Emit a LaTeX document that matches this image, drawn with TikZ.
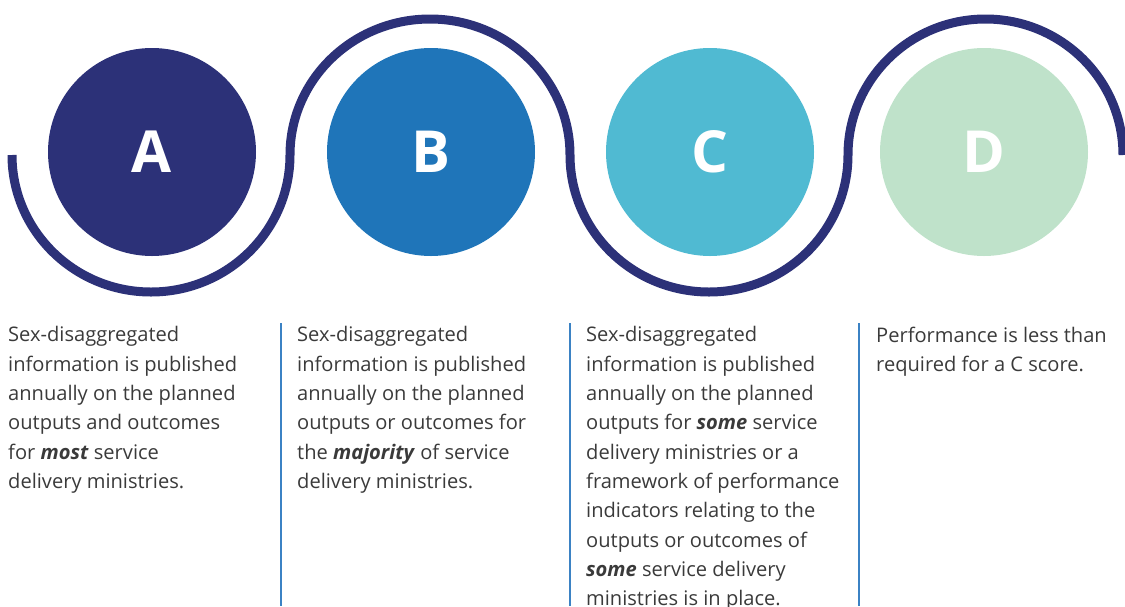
\documentclass[tikz,border=0pt]{standalone}
\usepackage{fontspec}
\setmainfont{Open Sans}
\newfontfamily\letterfont{Open Sans}
\definecolor{navy}{HTML}{2C3178}
\definecolor{cB}{HTML}{1F75B9}
\definecolor{cC}{HTML}{50BAD2}
\definecolor{cD}{HTML}{BFE2CA}
\definecolor{txt}{HTML}{3A3A3A}
\definecolor{sep}{HTML}{3B82C4}
\newcommand{\bi}[1]{\textbf{\textit{#1}}}
\tikzset{
  disc/.style={circle, minimum size=208pt, inner sep=0pt, text=white, font=\letterfont\bfseries\fontsize{58}{58}\selectfont},
  wave/.style={draw=navy, line width=9pt},
  desc/.style={anchor=north west, inner sep=0pt, align=left, text=txt, font=\fontsize{20.1}{29.3}\selectfont},
  sepline/.style={draw=sep, line width=1.2pt}
}
\begin{document}
\begin{tikzpicture}[x=1pt,y=-1pt]
\useasboundingbox (0,0) rectangle (1125,606);
\clip (0,0) rectangle (1125,606);
% wave
\coordinate (w0) at (12,155);
\draw[wave] (w0) arc[start angle=180, end angle=0, x radius=139, y radius=137]
  arc[start angle=180, end angle=360, x radius=140, y radius=136]
  arc[start angle=180, end angle=0, x radius=139, y radius=137]
  arc[start angle=180, end angle=360, x radius=137.5, y radius=136];
% discs
\node[disc, fill=navy] (A) at (152,152) {A};
\node[disc, fill=cB] (B) at (431,152) {B};
\node[disc, fill=cC] (C) at (710,152) {C};
\node[disc, fill=cD] (D) at (984,152) {D};
% separators
\coordinate (s1t) at (281,323); \coordinate (s1b) at (281,606);
\coordinate (s2t) at (570,323); \coordinate (s2b) at (570,606);
\coordinate (s3t) at (859,323); \coordinate (s3b) at (859,606);
\draw[sepline] (s1t) -- (s1b);
\draw[sepline] (s2t) -- (s2b);
\draw[sepline] (s3t) -- (s3b);
% texts
\node[desc] (tA) at (8,326.5) {Sex-disaggregated\\information is published\\annually on the planned\\outputs and outcomes\\for \bi{most} service\\delivery ministries.};
\node[desc] (tB) at (297,326.5) {Sex-disaggregated\\information is published\\annually on the planned\\outputs or outcomes for\\the \bi{majority} of service\\delivery ministries.};
\node[desc] (tC) at (586,326.5) {Sex-disaggregated\\information is published\\annually on the planned\\outputs for \bi{some} service\\delivery ministries or a\\framework of performance\\indicators relating to the\\outputs or outcomes of\\\bi{some} service delivery\\ministries is in place.};
\node[desc] (tD) at (876,326.5) {Performance is less than\\required for a C score.};
\end{tikzpicture}
\end{document}
